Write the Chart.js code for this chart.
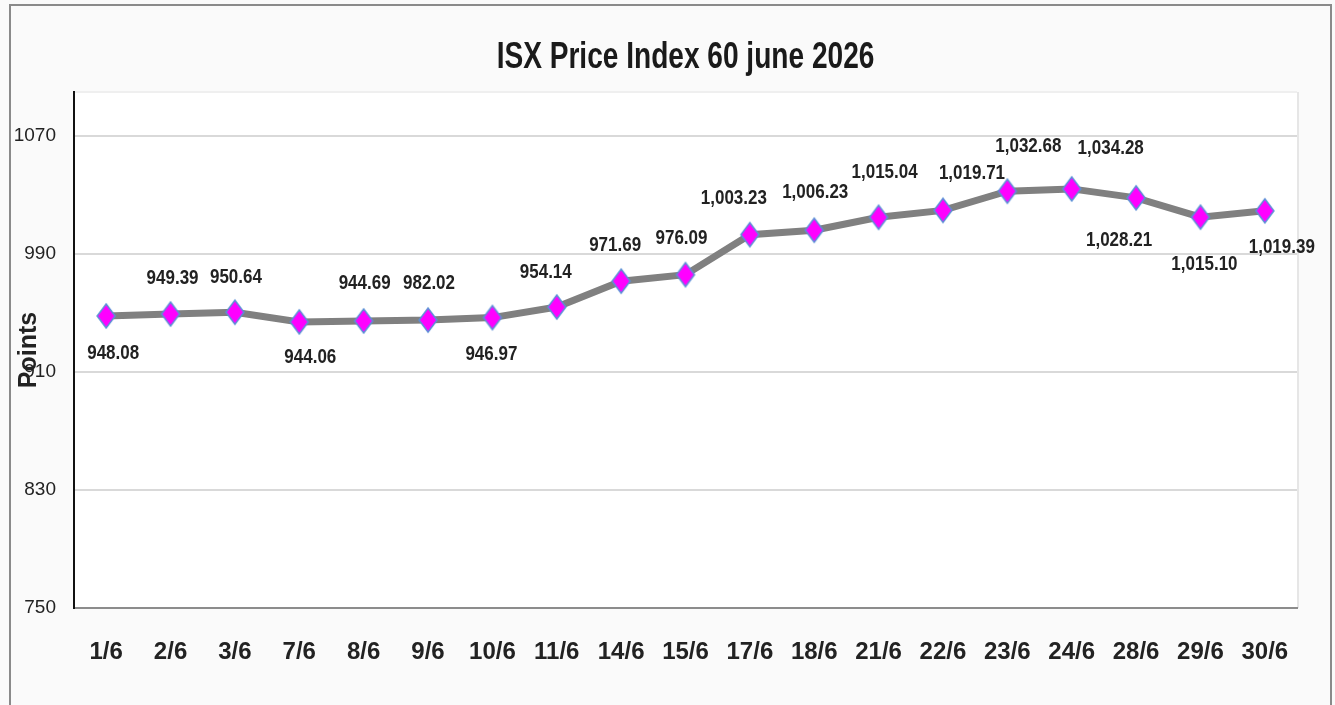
<!DOCTYPE html>
<html>
<head>
<meta charset="utf-8">
<script src="https://cdn.jsdelivr.net/npm/chart.js@4.4.1/dist/chart.umd.min.js"></script>
<style>
  html, body { margin: 0; padding: 0; background: #fafafa; }
  #wrap { position: absolute; left: 0; top: 0; width: 1335px; height: 705px; }
  #frame { position: absolute; left: 9px; top: 4px; width: 1323px; height: 720px; border: 2px solid #8a8a8a; box-sizing: border-box; }
  canvas { position: absolute; left: 0; top: 0; }
</style>
</head>
<body>
<div id="wrap">
  <div id="frame"></div>
  <canvas id="c" width="1335" height="705"></canvas>
</div>
<script>
// ---- data ----
const categories = ['1/6','2/6','3/6','7/6','8/6','9/6','10/6','11/6','14/6','15/6','17/6','18/6','21/6','22/6','23/6','24/6','28/6','29/6','30/6'];
const indexValues = [948.08, 949.39, 950.64, 944.06, 944.69, 945.3, 946.97, 954.14, 971.69, 976.09, 1003.23, 1006.23, 1015.04, 1019.71, 1032.68, 1034.28, 1028.21, 1015.10, 1019.39];
const valueLabels = ['948.08','949.39','950.64','944.06','944.69','982.02','946.97','954.14','971.69','976.09','1,003.23','1,006.23','1,015.04','1,019.71','1,032.68','1,034.28','1,028.21','1,015.10','1,019.39'];
const yTickValues = [750, 830, 910, 990, 1070];
const chartTitle = 'ISX Price Index 60 june 2026';
const yAxisTitle = 'Points';

// ---- styling (label offsets relative to each point, px) ----
const labelOffsets = [
  [7,38],[2,-36],[1,-35],[11,36],[1,-37],[1,-37],[-1,37],[-11,-35],[-6,-36],[-4,-36],
  [-16,-36],[1,-38],[6,-45],[29,-37],[21,-45],[39,-40],[-17,43],[4,47],[17,37]
];
const FONT = "'Liberation Sans', Arial, sans-serif";

// diamond point image
const diamond = document.createElement('canvas');
diamond.width = 22; diamond.height = 28;
(function(){
  const g = diamond.getContext('2d');
  g.beginPath();
  g.moveTo(11, 2); g.lineTo(20, 14); g.lineTo(11, 26); g.lineTo(2, 14); g.closePath();
  g.fillStyle = '#ff00ff'; g.fill();
  g.lineWidth = 1.5; g.strokeStyle = '#5b8fd6'; g.stroke();
})();

function drawSqueezed(ctx, text, x, y, sx) {
  ctx.save();
  ctx.translate(x, y);
  ctx.scale(sx, 1);
  ctx.fillText(text, 0, 0);
  ctx.restore();
}

const bgPlugin = {
  id: 'bg',
  beforeDraw(chart) {
    const {ctx, chartArea: a} = chart;
    ctx.save();
    ctx.fillStyle = '#ffffff';
    ctx.fillRect(a.left, a.top, a.right - a.left, a.bottom - a.top);
    ctx.strokeStyle = '#e6e6e6'; ctx.lineWidth = 2;
    ctx.beginPath(); ctx.moveTo(a.right + 1, a.top); ctx.lineTo(a.right + 1, a.bottom); ctx.stroke();
    ctx.restore();
  }
};

const textPlugin = {
  id: 'texts',
  afterDatasetsDraw(chart) {
    const {ctx} = chart;
    const a = chart.chartArea;
    const meta = chart.getDatasetMeta(0);
    ctx.save();
    ctx.textAlign = 'center';
    ctx.textBaseline = 'middle';
    // value labels
    ctx.font = 'bold 20px ' + FONT;
    ctx.fillStyle = '#222222';
    meta.data.forEach((pt, i) => {
      const o = labelOffsets[i];
      drawSqueezed(ctx, valueLabels[i], pt.x + o[0], pt.y + o[1], 0.85);
    });
    // title
    ctx.font = 'bold 36px ' + FONT;
    ctx.fillStyle = '#1a1a1a';
    drawSqueezed(ctx, chartTitle, (a.left + a.right) / 2, 58, 0.78);
    // y axis title
    ctx.translate(29, (a.top + a.bottom) / 2);
    ctx.rotate(-Math.PI / 2);
    ctx.font = 'bold 25px ' + FONT;
    ctx.fillStyle = '#222222';
    ctx.fillText(yAxisTitle, 0, 0);
    ctx.restore();
  }
};

new Chart(document.getElementById('c'), {
  type: 'line',
  data: {
    labels: categories,
    datasets: [{
      data: indexValues,
      borderColor: '#808080',
      borderWidth: 7,
      tension: 0,
      pointStyle: diamond,
      pointRadius: 10,
      pointHoverRadius: 10
    }]
  },
  options: {
    responsive: false,
    animation: false,
    devicePixelRatio: 1,
    layout: { padding: { left: 0, right: 38, top: 92, bottom: 0 } },
    plugins: {
      legend: { display: false },
      tooltip: { enabled: false },
      title: { display: false }
    },
    scales: {
      x: {
        offset: true,
        grid: { display: false, drawTicks: false },
        border: { color: '#8c8c8c', width: 2 },
        ticks: { color: '#222222', font: { family: FONT, size: 24, weight: 'bold' }, padding: 30, maxRotation: 0, autoSkip: false },
        afterFit(s) { s.height = 97; }
      },
      y: {
        min: 750,
        max: 1100,
        afterBuildTicks(s) { s.ticks = yTickValues.concat([1100]).map(v => ({value: v})); },
        grid: {
          color: (c) => c.tick && c.tick.value === 1100 ? '#efefef' : '#d9d9d9',
          lineWidth: 2,
          drawTicks: false
        },
        border: { color: '#111111', width: 2 },
        ticks: {
          color: '#222222',
          font: { family: FONT, size: 19 },
          padding: 18,
          callback: (v) => yTickValues.includes(v) ? String(v) : ''
        },
        afterFit(s) { s.width = 74; }
      }
    }
  },
  plugins: [bgPlugin, textPlugin]
});
</script>
</body>
</html>
